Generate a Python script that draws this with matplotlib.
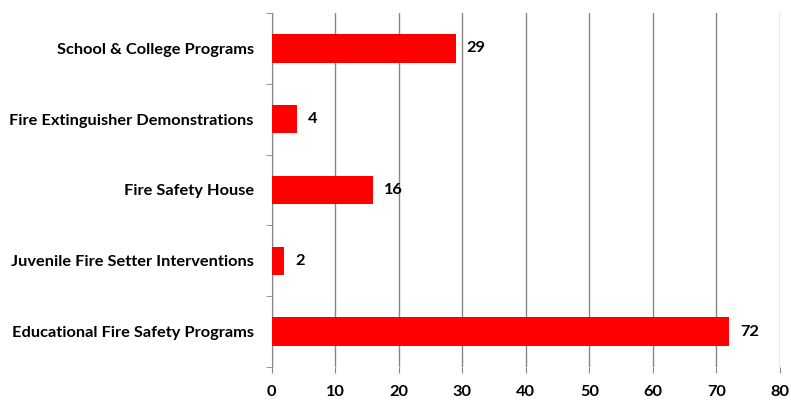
import matplotlib.pyplot as plt

categories = ['Educational Fire Safety Programs', 'Juvenile Fire Setter Interventions',
              'Fire Safety House', 'Fire Extinguisher Demonstrations',
              'School & College Programs']
values = [72, 2, 16, 4, 29]

plt.rcParams['font.family'] = ['Lato', 'DejaVu Sans']
plt.rcParams['font.weight'] = 'bold'

fig = plt.figure(figsize=(7.91, 4.00), dpi=100)
ax = fig.add_axes([271.7 / 791, 1 - 367 / 400, (780 - 271.7) / 791, (367 - 13) / 400])

ypos = range(len(categories))
ax.barh(ypos, values, height=0.4, color='#ff0000', zorder=3)
for y, v in zip(ypos, values):
    ax.text(v + 1.7, y, str(v), va='center', ha='left', fontsize=11.8, fontweight='bold')

ax.set_xlim(0, 80)
ax.set_ylim(-0.5, len(categories) - 0.5)
ax.set_xticks(range(0, 81, 10))
ax.set_yticks(list(ypos))
ax.set_yticklabels(categories, fontsize=11.8, fontweight='bold')
ax.set_yticks([i - 0.5 for i in range(len(categories) + 1)], minor=True)

ax.grid(axis='x', color='#868686', linewidth=1, zorder=0)
for s in ['top', 'right', 'bottom']:
    ax.spines[s].set_visible(False)
ax.spines['left'].set_color('#868686')
ax.tick_params(axis='y', which='major', length=0, pad=13)
ax.tick_params(axis='y', which='minor', length=4, color='#868686')
ax.tick_params(axis='x', length=4, color='#868686', labelsize=11.8, pad=9)
for lbl in ax.get_xticklabels():
    lbl.set_fontweight('bold')

fig.savefig('out.png', dpi=100)
